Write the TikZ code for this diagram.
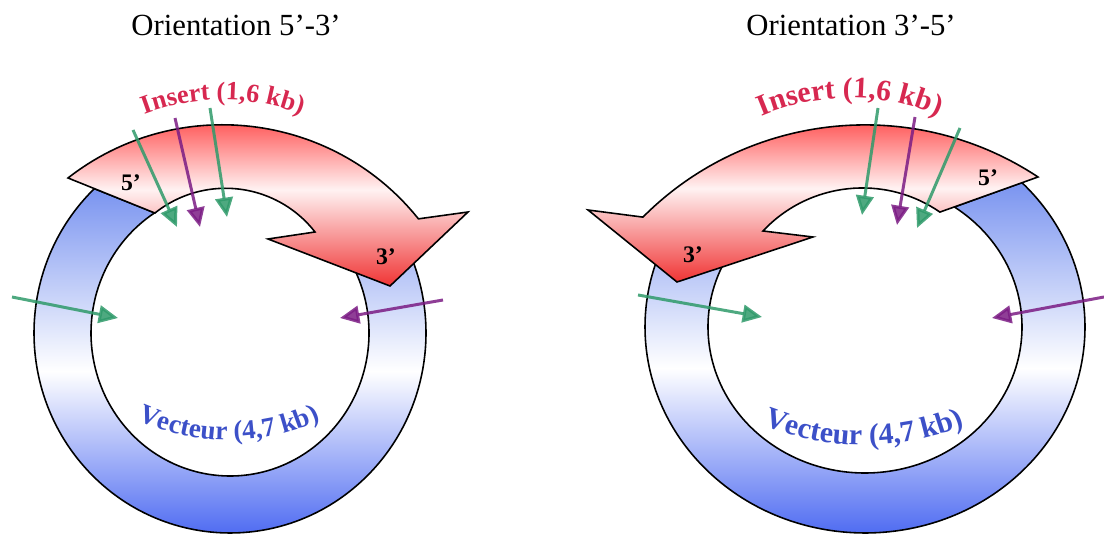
\documentclass[tikz,border=0pt]{standalone}
\usepackage{fontspec}
\setmainfont{Liberation Serif}
\usetikzlibrary{arrows.meta,calc,decorations.text}
\definecolor{insred}{HTML}{FF1A1A}
\definecolor{inspale}{HTML}{FFF2F2}
\definecolor{instip}{HTML}{F03434}
\definecolor{vectop}{HTML}{7A94F0}
\definecolor{vecbot}{HTML}{3A5AF0}
\definecolor{instext}{HTML}{D72850}
\definecolor{vectext}{HTML}{3C50C8}
\definecolor{primgreen}{HTML}{2F9A6A}
\definecolor{primpurple}{HTML}{7B1C84}
\tikzset{
 vecring/.style={top color=vectop,bottom color=vecbot,middle color=white,draw=black,line width=0.9pt},
 insband/.style={top color=insred,bottom color=instip,middle color=inspale,draw=black,line width=0.9pt},
 primer/.style={line width=1.7pt,opacity=0.85,-{Triangle[length=11pt,width=10pt]}},
 endlbl/.style={font=\bfseries\fontsize{13.5}{14}\selectfont,inner sep=0pt},
 headline/.style={font=\fontsize{17.5}{20}\selectfont,inner sep=0pt}
}

\begin{document}
\begin{tikzpicture}[x=0.02cm,y=0.02cm]
 \useasboundingbox (0,0) rectangle (1104,536);
 \coordinate (lc) at (230,203);
 \coordinate (rc) at (865,209);
 \node[headline] (ltitle) at (236,511) {Orientation 5’-3’};
 \node[headline] (rtitle) at (851,511) {Orientation 3’-5’};
 \draw[vecring] ($(lc)+(133.8:196 and 200)$) arc[start angle=133.8,end angle=395,x radius=196,y radius=200]
  -- ($(lc)+(395:139 and 143)$) arc[start angle=395,end angle=122.8,x radius=139,y radius=143] -- cycle;
 \draw[insband] (68,358) arc[start angle=128,end angle=38.7,radius=251] -- (468,324) -- (390,250)
  -- (268,297) -- (315,304) arc[start angle=37.9,end angle=128.6,radius=113.3] -- cycle;
 \node[endlbl] (l5) at (131,353) {5’};
 \node[endlbl] (l3) at (386,279) {3’};
 \path[decorate,decoration={text along path,text align=center,
  text={|\color{instext}\bfseries\fontsize{15}{16}\selectfont|Insert (1,6 kb)}}]
  ($(223,214)+(115:222)$) arc[start angle=115,end angle=65,radius=222];
 \path[decorate,decoration={text along path,text align=center,
  text={|\color{vectext}\bfseries\fontsize{15.5}{17}\selectfont|Vecteur (4,7 kb)}}]
  ($(229,316)+(240:220)$) arc[start angle=240,end angle=300,radius=220];
 \draw[vecring] ($(rc)+(44.5:220 and 206)$) arc[start angle=44.5,end angle=-215,x radius=220,y radius=206]
  -- ($(rc)+(-215:157 and 146)$) arc[start angle=-215,end angle=55.3,x radius=157,y radius=146] -- cycle;
 \draw[insband] (1038,359) arc[start angle=56.5,end angle=135.1,radius=313.5] -- (588,326) -- (677,254)
  -- (813,299) -- (763,305) arc[start angle=136.8,end angle=55.4,radius=136.4] -- cycle;
 \node[endlbl] (r5) at (988,358) {5’};
 \node[endlbl] (r3) at (693,281) {3’};
 \path[decorate,decoration={text along path,text align=center,
  text={|\color{instext}\bfseries\fontsize{17}{18}\selectfont|Insert (1,6 kb)}}]
  ($(850,214)+(118:224)$) arc[start angle=118,end angle=62,radius=224];
 \path[decorate,decoration={text along path,text align=center,
  text={|\color{vectext}\bfseries\fontsize{17}{18}\selectfont|Vecteur (4,7 kb)}}]
  ($(864,363)+(240:272)$) arc[start angle=240,end angle=300,radius=272];
 \foreach \n/\sx/\sy/\ex/\ey/\col in {la/133/406/177/309/primgreen,lb/175/418/200/309/primpurple,
  lc/210/428/227/319/primgreen,ld/12/239/118/218/primgreen,le/443/236/340/218/primpurple,
  ra/878/428/862/321/primgreen,rb/915/419/897/311/primpurple,rc/960/408/917/308/primgreen,
  rd/638/241/762/219/primgreen,re/1104/239/992/218/primpurple}{
  \coordinate (\n-s) at (\sx,\sy);
  \coordinate (\n-e) at (\ex,\ey);
  \draw[primer,\col] (\n-s) -- (\n-e);
 }
\end{tikzpicture}
\end{document}
